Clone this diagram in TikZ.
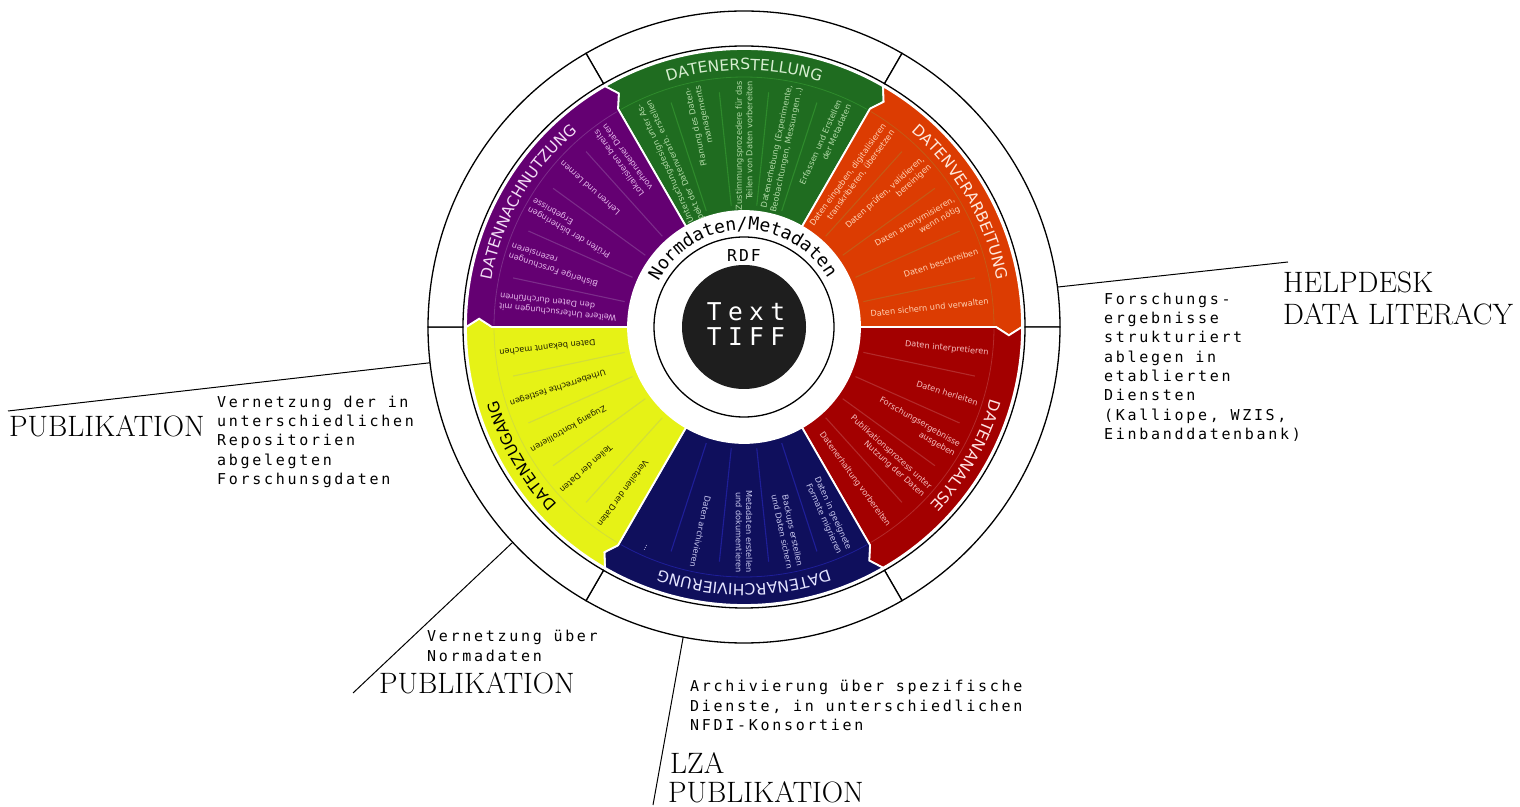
\documentclass[tikz,border=0pt]{standalone}
\usepackage{fontspec}
\usetikzlibrary{decorations.text}

\newfontfamily\sansdv{DejaVu Sans}
\newfontfamily\monodv{DejaVu Sans Mono}[LetterSpace=18]
\newfontfamily\monoarc{DejaVu Sans Mono}[LetterSpace=5]
\newfontfamily\monowide{DejaVu Sans Mono}[LetterSpace=26]
\newfontfamily\monordf{DejaVu Sans Mono}[LetterSpace=12]

\newcommand\itemfont{\sansdv\fontsize{8.2}{10.4}\selectfont}
\newcommand\ttlfont{\sansdv\fontsize{15.5}{16}\selectfont}
\newcommand\monofont{\monodv\fontsize{15}{19.3}\selectfont}
\newcommand\bigfont{\rmfamily\fontsize{29.5}{32}\selectfont}
\newcommand\arcfont{\monoarc\fontsize{18}{18}\selectfont}
\newcommand\corefont{\monowide\fontsize{24.5}{25.5}\selectfont}
\newcommand\rdffont{\monordf\fontsize{16.4}{17}\selectfont}

\definecolor{grn}{HTML}{1F6C20}
\definecolor{grnsep}{HTML}{2E8A2C}
\definecolor{grntxt}{HTML}{B2DBA8}
\definecolor{grnttl}{HTML}{D6EED0}
\definecolor{org}{HTML}{DC3C02}
\definecolor{orgsep}{HTML}{C45A16}
\definecolor{orgtxt}{HTML}{FFD2B4}
\definecolor{orgttl}{HTML}{FFE8DC}
\definecolor{rd}{HTML}{A30000}
\definecolor{rdsep}{HTML}{B32A2A}
\definecolor{rdtxt}{HTML}{F5BDBD}
\definecolor{rdttl}{HTML}{FFE2E2}
\definecolor{nvy}{HTML}{0F0F5C}
\definecolor{nvysep}{HTML}{1E1E98}
\definecolor{nvytxt}{HTML}{C9C9F0}
\definecolor{nvyttl}{HTML}{E4E4FF}
\definecolor{ylw}{HTML}{E6F216}
\definecolor{ylwsep}{HTML}{D2DE3A}
\definecolor{ylwtxt}{HTML}{1E1E00}
\definecolor{ylwttl}{HTML}{000000}
\definecolor{prp}{HTML}{640072}
\definecolor{prpsep}{HTML}{7C2C8A}
\definecolor{prptxt}{HTML}{E6B8EC}
\definecolor{prpttl}{HTML}{F2DCF5}
\definecolor{coreblack}{HTML}{1E1E1E}

% white segment of the outer ring, from angle #1 clockwise over 60 degrees
\newcommand\ringpiece[1]{%
  \path[ringseg] (#1:281) arc[start angle=#1, end angle={#1-60}, radius=281]
    -- ({#1-60}:316) arc[start angle={#1-60}, end angle=#1, radius=316] -- cycle;}
% coloured phase: arrow tip at the clockwise end, notch at the other end
\newcommand\phasepiece[2]{%
  \path[phasefill, fill=#2] (#1:278) arc[start angle=#1, end angle={#1-60}, radius=278]
    -- ({#1-61.8}:265) -- ({#1-60}:252) -- ({#1-60}:116)
    arc[start angle={#1-60}, end angle=#1, radius=116]
    -- (#1:252) -- ({#1-1.8}:265) -- cycle;}
% thin arc under the phase title
\newcommand\phaseband[2]{%
  \draw[band, #2] ({#1-0.5}:250) arc[start angle={#1-0.5}, end angle={#1-59.5}, radius=250];}
% phase title set along the circle
\newcommand\phasetitle[3]{%
  \path[decorate, decoration={text along path, text={|\ttlfont|#2},
    text align=center, text color=#3}]
    (#1:257) arc[start angle=#1, end angle={#1-60}, radius=257];}

\begin{document}
\begin{tikzpicture}[x=1pt, y=1pt,
  ringseg/.style={draw=black, line width=1.3pt, fill=white, line join=miter},
  phasefill/.style={draw=white, line width=1.8pt, line join=miter},
  sep/.style={line width=1.1pt},
  band/.style={line width=0.8pt},
  item/.style={font=\itemfont, align=right, inner sep=0pt, anchor=east},
  mono/.style={font=\monofont, align=left, inner sep=0pt, anchor=base west},
  bigl/.style={font=\bigfont, align=left, inner sep=0pt, anchor=base west},
  link/.style={draw=black, line width=1pt}]

\useasboundingbox (0,0) rectangle (1520,806);
\fill[white] (0,0) rectangle (1520,806);

\coordinate (C) at (744,479);

\begin{scope}[shift={(C)}]
  % outer ring
  \foreach \a in {120,60,0,-60,-120,180} {\ringpiece{\a}}

  % the six phases of the cycle
  \phasepiece{120}{grn}
  \phasepiece{60}{org}
  \phasepiece{0}{rd}
  \phasepiece{-60}{nvy}
  \phasepiece{-120}{ylw}
  \phasepiece{180}{prp}

  \phaseband{120}{grnsep}
  \phaseband{60}{orgsep}
  \phaseband{0}{rdsep}
  \phaseband{-60}{nvysep}
  \phaseband{-120}{ylwsep}
  \phaseband{180}{prpsep}

  % separators between the steps of each phase
  \foreach \t in {108,96,84,72} {\draw[sep, grnsep] (\t:122) -- (\t:236);}
  \foreach \t in {48,36,24,12} {\draw[sep, orgsep] (\t:122) -- (\t:236);}
  \foreach \t in {-12,-24,-36,-48} {\draw[sep, rdsep] (\t:122) -- (\t:236);}
  \foreach \t in {-72,-84,-96,-108} {\draw[sep, nvysep] (\t:122) -- (\t:236);}
  \foreach \t in {-132,-144,-156,-168} {\draw[sep, ylwsep] (\t:122) -- (\t:236);}
  \foreach \t in {168,156,144,132} {\draw[sep, prpsep] (\t:122) -- (\t:236);}

  % phase titles
  \phasetitle{120}{DATENERSTELLUNG}{grnttl}
  \phasetitle{60}{DATENVERARBEITUNG}{orgttl}
  \phasetitle{0}{DATENANALYSE}{rdttl}
  \phasetitle{-60}{DATENARCHIVIERUNG}{nvyttl}
  \phasetitle{-120}{DATENZUGANG}{ylwttl}
  \phasetitle{180}{DATENNACHNUTZUNG}{prpttl}

  % Datenerstellung
  \node[item, text=grntxt, rotate=114] (g1) at (114:246) {Untersuchungsdesign unter As-\\pekt der Datenverarb. erstellen};
  \node[item, text=grntxt, rotate=102] (g2) at (102:246) {Planung des Daten-\\managements};
  \node[item, text=grntxt, rotate=90] (g3) at (90:246) {Zustimmungsprozedere für das\\Teilen von Daten  vorbereiten};
  \node[item, text=grntxt, rotate=78] (g4) at (78:246) {Datenerhebung (Experimente,\\Beobachtungen, Messungen ..)};
  \node[item, text=grntxt, rotate=66] (g5) at (66:246) {Erfassen und Erstellen\\der Metadaten};

  % Datenverarbeitung
  \node[item, text=orgtxt, rotate=54] (o1) at (54:246) {Daten eingeben, digitalisieren\\transkribieren, übersetzen};
  \node[item, text=orgtxt, rotate=42] (o2) at (42:246) {Daten prüfen, validieren,\\bereinigen};
  \node[item, text=orgtxt, rotate=30] (o3) at (30:246) {Daten anonymisieren,\\wenn nötig};
  \node[item, text=orgtxt, rotate=18] (o4) at (18:246) {Daten beschreiben};
  \node[item, text=orgtxt, rotate=6] (o5) at (6:246) {Daten sichern und verwalten};

  % Datenanalyse
  \node[item, text=rdtxt, rotate=-6] (r1) at (-6:246) {Daten interpretieren};
  \node[item, text=rdtxt, rotate=-18] (r2) at (-18:246) {Daten herleiten};
  \node[item, text=rdtxt, rotate=-30] (r3) at (-30:246) {Forschungsergebnisse\\ausgeben};
  \node[item, text=rdtxt, rotate=-42] (r4) at (-42:246) {Publikationsprozess unter\\Nutzung der Daten};
  \node[item, text=rdtxt, rotate=-54] (r5) at (-54:246) {Datenerhaltung vorbereiten};

  % Datenarchivierung
  \node[item, text=nvytxt, rotate=-66] (n1) at (-66:246) {Daten in geeignete\\Formate migrieren};
  \node[item, text=nvytxt, rotate=-78] (n2) at (-78:246) {Backups erstellen\\und Daten sichern};
  \node[item, text=nvytxt, rotate=-90] (n3) at (-90:246) {Metadaten erstellen\\und dokumentieren};
  \node[item, text=nvytxt, rotate=-102] (n4) at (-102:246) {Daten archivieren};
  \node[item, text=nvytxt, rotate=-114] (n5) at (-114:246) {...};

  % Datenzugang
  \node[item, text=ylwtxt, rotate=-126] (y1) at (-126:246) {Verteilen der Daten};
  \node[item, text=ylwtxt, rotate=-138] (y2) at (-138:246) {Teilen der Daten};
  \node[item, text=ylwtxt, rotate=-150] (y3) at (-150:246) {Zugang kontrollieren};
  \node[item, text=ylwtxt, rotate=-162] (y4) at (-162:246) {Urheberrechte festlegen};
  \node[item, text=ylwtxt, rotate=-174] (y5) at (-174:246) {Daten bekannt machen};

  % Datennachnutzung
  \node[item, text=prptxt, rotate=174] (p1) at (174:246) {Weitere Untersuchungen mit\\den Daten durchführen};
  \node[item, text=prptxt, rotate=162] (p2) at (162:246) {Bisherige Forschungen\\rezensieren};
  \node[item, text=prptxt, rotate=150] (p3) at (150:246) {Prüfen der bisheringen\\Ergebnisse};
  \node[item, text=prptxt, rotate=138] (p4) at (138:246) {Lehren und Lernen};
  \node[item, text=prptxt, rotate=126] (p5) at (126:246) {Lokalisieren bereits\\vorhandener Daten};

  % centre: norm data ring, RDF and the core formats
  \path[decorate, decoration={text along path, text={|\arcfont|Normdaten/Metadaten},
    text align=center}] (171:97) arc[start angle=171, end angle=11, radius=97];
  \draw[line width=1.3pt] (0,0) circle[radius=90];
  \node[font=\rdffont, inner sep=0pt] (rdf) at (0,71) {RDF};
  \fill[coreblack] (0,0) circle[radius=62];
  \node[font=\corefont, text=white, align=center, inner sep=0pt] (core) at (2,3) {Text\\TIFF};

  % where the pointer lines leave the ring
  \coordinate (hdA) at (7.26:316);
  \coordinate (plA) at (186.5:316);
  \coordinate (nmA) at (222.95:316);
  \coordinate (lzA) at (258.9:316);
\end{scope}

% pointer lines
\coordinate (hdB) at (1288,544);
\coordinate (plB) at (8,395);
\coordinate (nmB) at (353,113);
\coordinate (lzB) at (653,1);
\draw[link] (hdA) -- (hdB);
\draw[link] (plA) -- (plB);
\draw[link] (nmA) -- (nmB);
\draw[link] (lzA) -- (lzB);

% labels outside the wheel (anchored at the baseline of their last line)
\node[bigl] (hdtitle) at (1283,481) {HELPDESK\\DATA LITERACY};
\node[mono] (hdtext) at (1104,366.6) {Forschungs-\\ergebnisse\\strukturiert\\ablegen in\\etablierten\\Diensten\\(Kalliope, WZIS,\\Einbanddatenbank)};

\node[bigl] (pubL) at (9,369) {PUBLIKATION};
\node[mono] (pubLtext) at (217,321.5) {Vernetzung der in\\unterschiedlichen\\Repositorien\\abgelegten\\Forschunsgdaten};

\node[mono] (normtext) at (427,145) {Vernetzung über\\Normadaten};
\node[bigl] (pubB) at (379,113) {PUBLIKATION};

\node[mono] (lzatext) at (690,75.7) {Archivierung über spezifische\\Dienste, in unterschiedlichen\\NFDI-Konsortien};
\node[bigl] (lza) at (670,33) {LZA};
\node[bigl] (lzapub) at (668,4) {PUBLIKATION};
\end{tikzpicture}
\end{document}
